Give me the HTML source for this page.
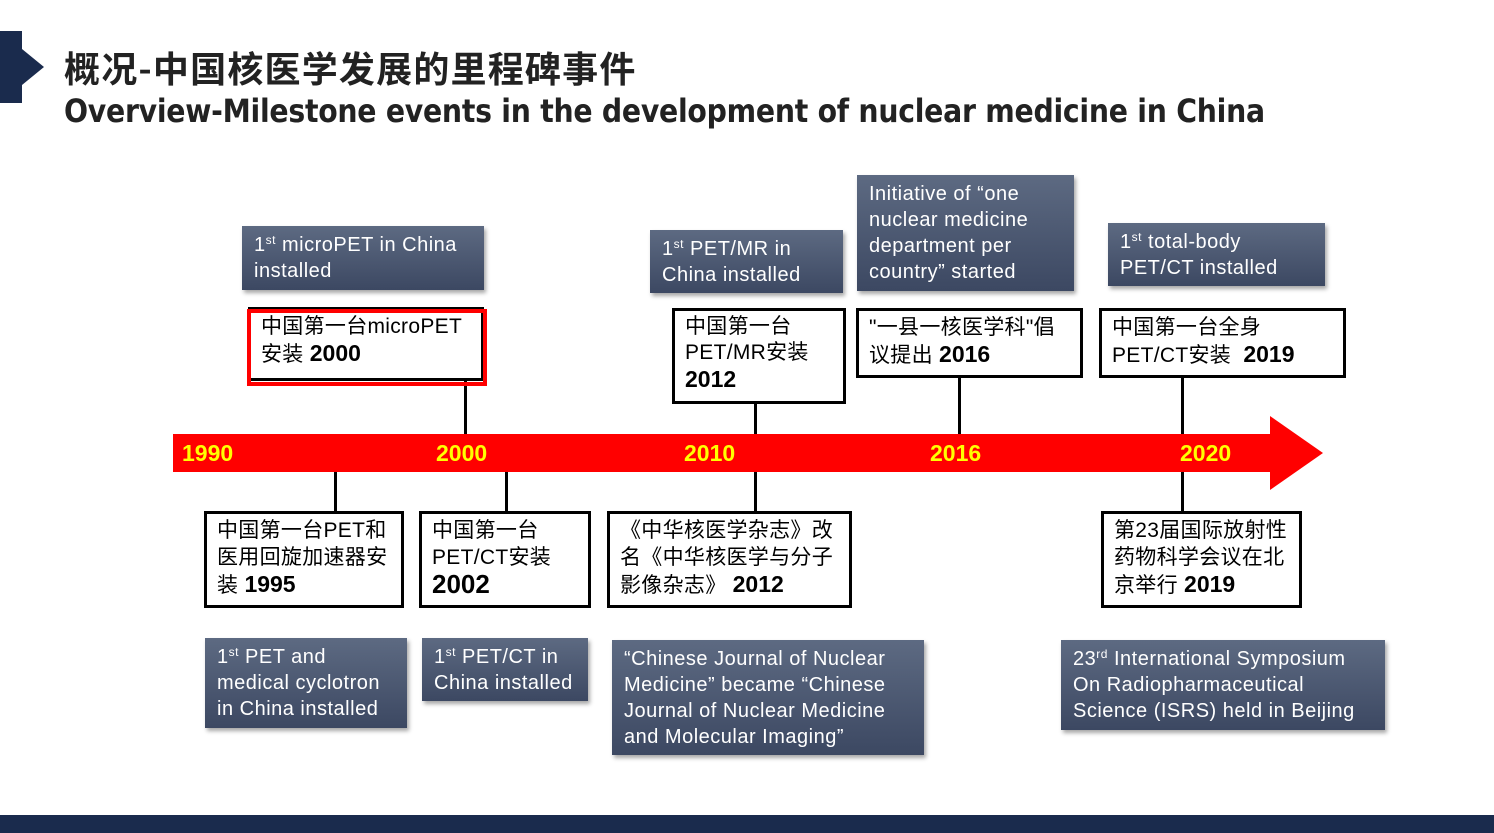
<!DOCTYPE html>
<html><head><meta charset="utf-8"><style>
body{margin:0;width:1494px;height:833px;background:#fff;position:relative;overflow:hidden;font-family:"Liberation Sans","Noto Sans CJK SC",sans-serif}
.a{position:absolute}
.g{position:absolute;background:linear-gradient(#5d6a82,#3c4862);color:#fff;font-size:20px;line-height:26px;padding:6px 12px;box-sizing:border-box;box-shadow:2px 3px 4px rgba(0,0,0,.35);letter-spacing:0.5px}
.g sup{font-size:12px;vertical-align:7px;line-height:0}
.b{position:absolute;border:3px solid #000;background:#fff;box-sizing:border-box;font-size:21px;line-height:27px;padding:3px 10px;color:#000;letter-spacing:0.3px}
.b b{font-size:23px;letter-spacing:0}
.v{position:absolute;width:3px;background:#000}
.y{position:absolute;top:440px;color:#ff0;font-weight:bold;font-size:23px}
</style></head><body>
<div class="a" style="left:0;top:31px;width:0;height:0;border-top:36px solid transparent;border-bottom:36px solid transparent;border-left:44px solid #1a2b4d"></div>
<div class="a" style="left:0;top:31px;width:22px;height:72px;background:#1a2b4d"></div>
<div class="a" style="left:64px;top:44px;font-size:36px;font-weight:bold;color:#222;font-family:'Noto Sans CJK SC',sans-serif;line-height:46px;letter-spacing:1.2px">概况-中国核医学发展的里程碑事件</div>
<div class="a" style="left:64px;top:92px;font-size:32px;font-weight:bold;color:#222;font-family:'DejaVu Sans',sans-serif;letter-spacing:-0.3px;transform:scaleX(0.885);transform-origin:left">Overview-Milestone events in the development of nuclear medicine in China</div>

<div class="a" style="left:173px;top:434px;width:1100px;height:38px;background:#f00"></div>
<div class="a" style="left:1270px;top:416px;width:0;height:0;border-top:37px solid transparent;border-bottom:37px solid transparent;border-left:53px solid #f00"></div>
<div class="y" style="left:182px">1990</div><div class="y" style="left:436px">2000</div><div class="y" style="left:684px">2010</div><div class="y" style="left:930px">2016</div><div class="y" style="left:1180px">2020</div>

<div class="v" style="left:464px;top:380px;height:54px"></div>
<div class="v" style="left:754px;top:402px;height:32px"></div>
<div class="v" style="left:958px;top:376px;height:58px"></div>
<div class="v" style="left:1181px;top:376px;height:58px"></div>
<div class="v" style="left:334px;top:472px;height:40px"></div>
<div class="v" style="left:505px;top:472px;height:40px"></div>
<div class="v" style="left:754px;top:472px;height:40px"></div>
<div class="v" style="left:1181px;top:472px;height:40px"></div>

<div class="g" style="left:242px;top:226px;width:242px;height:64px">1<sup>st</sup> microPET in China installed</div>
<div class="g" style="left:650px;top:230px;width:193px;height:63px">1<sup>st</sup> PET/MR in China installed</div>
<div class="g" style="left:857px;top:175px;width:217px;height:116px">Initiative of “one nuclear medicine department per country” started</div>
<div class="g" style="left:1108px;top:223px;width:217px;height:63px">1<sup>st</sup> total-body<br>PET/CT installed</div>
<div class="g" style="left:205px;top:638px;width:202px;height:90px">1<sup>st</sup> PET and<br>medical cyclotron<br>in China installed</div>
<div class="g" style="left:422px;top:638px;width:166px;height:63px">1<sup>st</sup> PET/CT in China installed</div>
<div class="g" style="left:612px;top:640px;width:312px;height:115px">“Chinese Journal of Nuclear Medicine” became “Chinese Journal of Nuclear Medicine<br>and Molecular Imaging”</div>
<div class="g" style="left:1061px;top:640px;width:324px;height:90px">23<sup>rd</sup> International Symposium<br>On Radiopharmaceutical<br>Science (ISRS) held in Beijing</div>

<div class="b" style="left:248px;top:307px;width:236px;height:74px">中国第一台microPET<br>安装 <b>2000</b></div>
<div class="a" style="left:247px;top:309px;width:232px;height:69px;border:4px solid #f00"></div>
<div class="b" style="left:672px;top:308px;width:174px;height:96px;line-height:26px">中国第一台<br>PET/MR安装<br><b>2012</b></div>
<div class="b" style="left:856px;top:308px;width:227px;height:70px">"一县一核医学科"倡<br>议提出 <b>2016</b></div>
<div class="b" style="left:1099px;top:308px;width:247px;height:70px">中国第一台全身<br>PET/CT安装 &nbsp;<b>2019</b></div>
<div class="b" style="left:204px;top:511px;width:200px;height:97px">中国第一台PET和<br>医用回旋加速器安<br>装 <b>1995</b></div>
<div class="b" style="left:419px;top:511px;width:172px;height:97px">中国第一台<br>PET/CT安装<br><b style="font-size:26px">2002</b></div>
<div class="b" style="left:607px;top:511px;width:245px;height:97px">《中华核医学杂志》改<br>名《中华核医学与分子<br>影像杂志》 <b>2012</b></div>
<div class="b" style="left:1101px;top:511px;width:201px;height:97px">第23届国际放射性<br>药物科学会议在北<br>京举行 <b>2019</b></div>

<div class="a" style="left:0;top:815px;width:1494px;height:18px;background:#1a2b4d"></div>
</body></html>
